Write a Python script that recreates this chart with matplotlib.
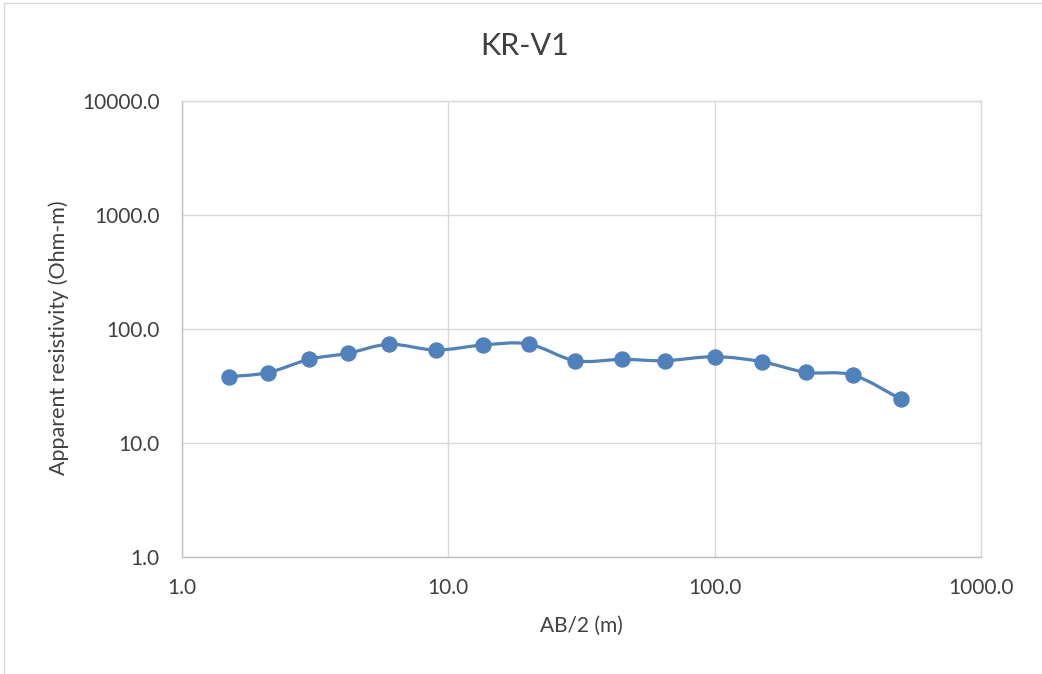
import numpy as np
import matplotlib
matplotlib.use("Agg")
import matplotlib.pyplot as plt
from matplotlib.path import Path
from matplotlib.patches import PathPatch
from matplotlib.ticker import FixedLocator, FixedFormatter
from matplotlib.lines import Line2D

# sounding KR-V1
ab2 = [1.5, 2.1, 3.0, 4.2, 6.0, 9.0, 13.5, 20, 30, 45, 65, 100, 150, 220, 330, 500]
rho = [38.2, 41.4, 54.2, 61.2, 73.4, 65.4, 72.4, 73.9, 52.7, 54.2, 52.7, 57.2,
       51.7, 41.7, 39.5, 24.2]
ticks = [1, 10, 100, 1000, 10000]
tick_labels = ["1.0", "10.0", "100.0", "1000.0", "10000.0"]

BLUE = "#4f81bd"
GRID = "#d9d9d9"
TXT = "#404040"

plt.rcParams['font.family'] = ['Lato', 'DejaVu Sans']

fig = plt.figure(figsize=(10.42, 6.74), dpi=100)
ax = fig.add_axes([182/1042, 1-557/674, (981-182)/1042, (557-101)/674])
ax.set_xscale("log")
ax.set_yscale("log")
ax.set_xlim(1, 1000)
ax.set_ylim(1, 10000)

# smooth line like excel, bezier in log space
lx = np.log10(ab2)
ly = np.log10(rho)
pts = np.column_stack([lx, ly])
verts = [pts[0]]
codes = [Path.MOVETO]
n = len(pts)
for i in range(n - 1):
    p0 = pts[max(i - 1, 0)]
    p1 = pts[i]
    p2 = pts[i + 1]
    p3 = pts[min(i + 2, n - 1)]
    c1 = p1 + (p2 - p0) / 6.0
    c2 = p2 - (p3 - p1) / 6.0
    verts += [c1, c2, p2]
    codes += [Path.CURVE4] * 3
verts = 10 ** np.array(verts)
ax.add_patch(PathPatch(Path(verts, codes), fc="none", ec=BLUE, lw=2.3, zorder=3))
ax.plot(ab2, rho, ls="none", marker="o", ms=10.8, color=BLUE, zorder=4)

ax.xaxis.set_major_locator(FixedLocator(ticks[:4]))
ax.xaxis.set_major_formatter(FixedFormatter(tick_labels[:4]))
ax.yaxis.set_major_locator(FixedLocator(ticks))
ax.yaxis.set_major_formatter(FixedFormatter(tick_labels))
ax.xaxis.set_minor_locator(FixedLocator([]))
ax.yaxis.set_minor_locator(FixedLocator([]))
ax.tick_params(length=0, labelsize=15, labelcolor=TXT)
ax.tick_params(axis="x", pad=15)
ax.tick_params(axis="y", pad=16)
ax.grid(True, color=GRID, lw=1)
for s in ax.spines.values():
    s.set_color(GRID)
    s.set_linewidth(1)
ax.spines["left"].set_color("#bfbfbf")
ax.spines["bottom"].set_color("#bfbfbf")

ax.set_xlabel("AB/2 (m)", fontsize=15, color=TXT)
ax.set_ylabel("Apparent resistivity (Ohm-m)", fontsize=15.5, color=TXT)
ax.xaxis.set_label_coords(0.5, (557-616)/456)
ax.yaxis.set_label_coords((69-182)/799, 0.48)
fig.text(525/1042, 1-46/674, "KR-V1", fontsize=22, color=TXT, ha="center", va="center")

# chart border
fig.add_artist(Line2D([4/1042, 4/1042], [0, 1-3/674], color=GRID, lw=1))
fig.add_artist(Line2D([4/1042, 1], [1-3/674, 1-3/674], color=GRID, lw=1))

fig.savefig("out.png", dpi=100)
